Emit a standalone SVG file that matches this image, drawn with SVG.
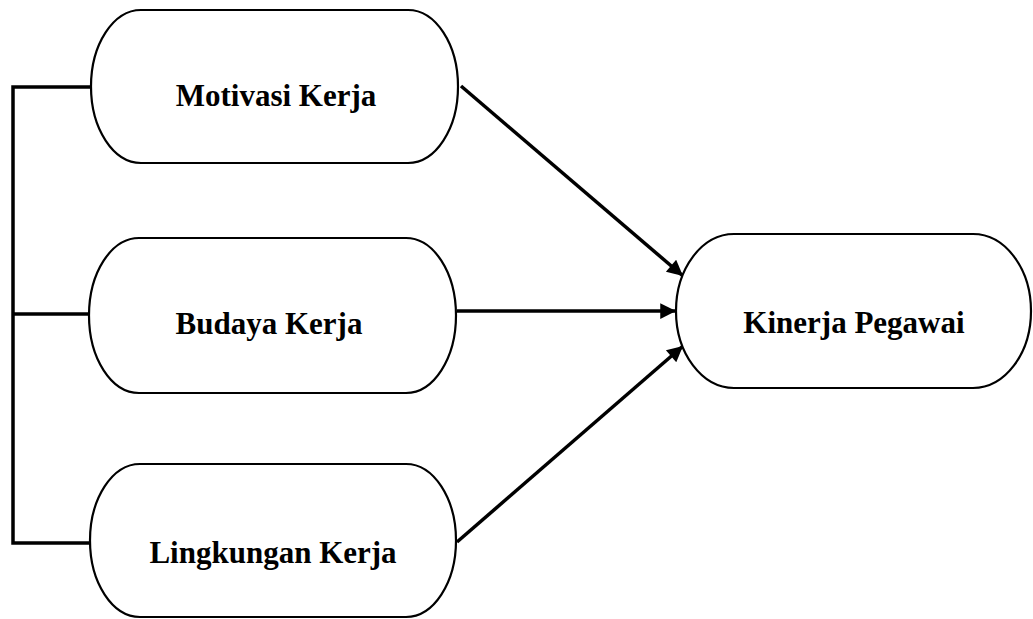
<svg xmlns="http://www.w3.org/2000/svg" width="1033" height="619" viewBox="0 0 1033 619">
<style>
.node{fill:#fff;stroke:#000;stroke-width:2.2}
.lbl{font-family:"Liberation Serif","Times New Roman",serif;font-weight:bold;font-size:31px;fill:#000;text-anchor:middle;dominant-baseline:central}
.con{fill:none;stroke:#000;stroke-width:3.5}
</style>
<defs>
<marker id="ah" viewBox="0 0 10 10" refX="10" refY="5" markerWidth="6" markerHeight="4.5" markerUnits="strokeWidth" orient="auto">
<path d="M0,0 L10,5 L0,10 Z" fill="#000"/>
</marker>
</defs>
<g id="connectors">
<path class="con" d="M91,87 H13 V543 H91"/>
<path class="con" d="M13,314 H89"/>
<path class="con" d="M461,86 L683,276" marker-end="url(#ah)"/>
<path class="con" d="M457,311 L676,311" marker-end="url(#ah)"/>
<path class="con" d="M457,542 L683,346" marker-end="url(#ah)"/>
</g>
<g id="motivasi">
<rect class="node" x="91" y="10" width="367" height="153" rx="50" ry="76.5"/>
<text class="lbl" x="276" y="95">Motivasi Kerja</text>
</g>
<g id="budaya">
<rect class="node" x="89" y="238" width="367" height="155" rx="50" ry="77.5"/>
<text class="lbl" x="269" y="323">Budaya Kerja</text>
</g>
<g id="lingkungan">
<rect class="node" x="90" y="464" width="366" height="153" rx="50" ry="76.5"/>
<text class="lbl" x="273" y="552">Lingkungan Kerja</text>
</g>
<g id="kinerja">
<rect class="node" x="676" y="234" width="355" height="154" rx="58" ry="77"/>
<text class="lbl" x="854" y="322">Kinerja Pegawai</text>
</g>
</svg>
